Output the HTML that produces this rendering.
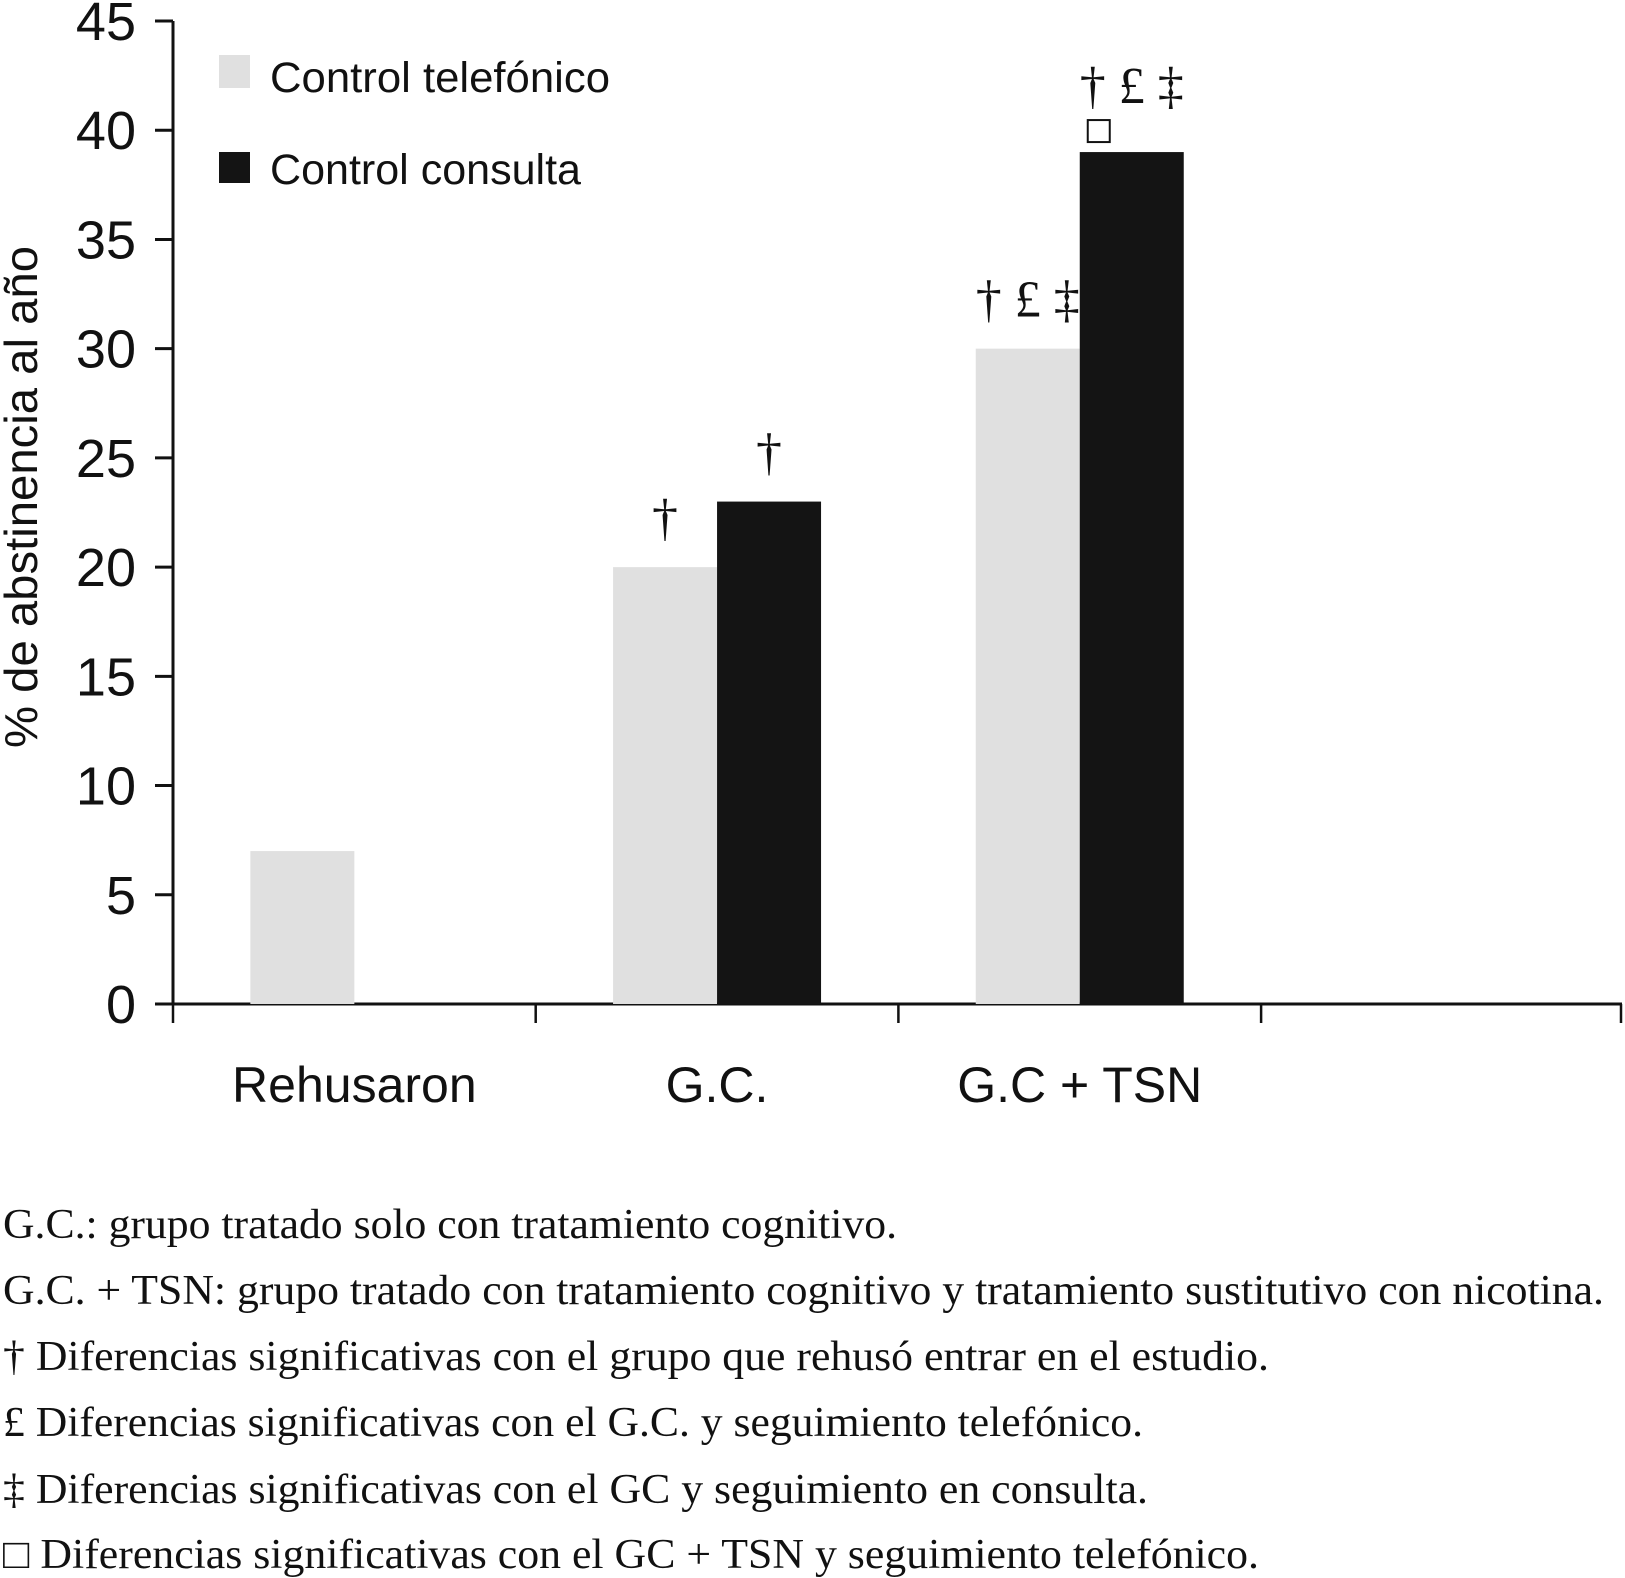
<!DOCTYPE html>
<html><head><meta charset="utf-8"><style>
html,body{margin:0;padding:0;background:#fff;}
svg{display:block;}
.sans{font-family:"Liberation Sans Narrow","Liberation Sans",sans-serif;}
.serif{font-family:"Liberation Serif",serif;}
</style></head><body>
<svg id="chart" width="1625" height="1578" viewBox="0 0 1625 1578">
<g id="axes"></g><g id="bars"></g><g id="ann"></g>
<g>
<rect x="219" y="55" width="31" height="33" fill="#e0e0e0"/>
<text x="270" y="92" class="sans" font-size="43" fill="#111" textLength="340" lengthAdjust="spacingAndGlyphs">Control telefónico</text>
<rect x="219" y="152" width="31" height="31" fill="#141414"/>
<text x="270" y="184" class="sans" font-size="43" fill="#111" textLength="311" lengthAdjust="spacingAndGlyphs">Control consulta</text>
</g>
<text transform="translate(37,497) rotate(-90)" text-anchor="middle" class="sans" font-size="46" fill="#111" textLength="502" lengthAdjust="spacingAndGlyphs">% de abstinencia al año</text>
<g class="serif" font-size="42" fill="#111">
<text x="3" y="1238" textLength="894" lengthAdjust="spacingAndGlyphs">G.C.: grupo tratado solo con tratamiento cognitivo.</text>
<text x="3" y="1304" textLength="1601" lengthAdjust="spacingAndGlyphs">G.C. + TSN: grupo tratado con tratamiento cognitivo y tratamiento sustitutivo con nicotina.</text>
<text x="3" y="1370" textLength="1266" lengthAdjust="spacingAndGlyphs">† Diferencias significativas con el grupo que rehusó entrar en el estudio.</text>
<text x="3" y="1436" textLength="1140" lengthAdjust="spacingAndGlyphs">£ Diferencias significativas con el G.C. y seguimiento telefónico.</text>
<text x="3" y="1503" textLength="1145" lengthAdjust="spacingAndGlyphs">‡ Diferencias significativas con el GC y seguimiento en consulta.</text>
<text x="3" y="1568" textLength="1256" lengthAdjust="spacingAndGlyphs">□ Diferencias significativas con el GC + TSN y seguimiento telefónico.</text>
</g>
</svg>
<script>
const categories=["Rehusaron","G.C.","G.C + TSN"];
const telefonico=[7,20,30];
const consulta=[0,23,39];
const yTicks=[0,5,10,15,20,25,30,35,40,45];
const annTel=["","†","† £ ‡"];
const annCon=["","†","† £ ‡"];
const annCon2=["","","□"];
const NS="http://www.w3.org/2000/svg";
const x0=173,xEnd=1622,y0=1004,yTop=21,yMax=45,catW=362.7,barW=104;
const y=v=>y0-(v/yMax)*(y0-yTop);
const cx=i=>x0+catW*(i+0.5);
function mk(t,a,p){const e=document.createElementNS(NS,t);for(const k in a)e.setAttribute(k,a[k]);p.appendChild(e);return e;}
const ax=document.getElementById('axes'),bg=document.getElementById('bars'),an=document.getElementById('ann');
let l=mk('line',{x1:x0,y1:y(yMax),x2:x0,y2:y0,stroke:'#111','stroke-width':3},ax);


yTicks.forEach(v=>{
 const t=mk('line',{x1:x0-18,x2:x0,y1:y(v),y2:y(v),stroke:'#111','stroke-width':3},ax);
 
 
 const tx=mk('text',{x:136,y:y(v)+19,'text-anchor':'end','font-size':54,fill:'#111',class:'sans'},ax);
 tx.textContent=v;
 
 
});
categories.forEach((c,i)=>{
 const tx=mk('text',{x:cx(i),y:1102,'text-anchor':'middle','font-size':50,fill:'#111',class:'sans'},ax);
 tx.textContent=c;
 
 
 if(telefonico[i]>0){
  const b=mk('rect',{x:cx(i)-barW,y:y(telefonico[i]),width:barW,height:y0-y(telefonico[i]),fill:'#e0e0e0'},bg);
  
  
 }
 if(consulta[i]>0){
  const b=mk('rect',{x:cx(i),y:y(consulta[i]),width:barW,height:y0-y(consulta[i]),fill:'#141414'},bg);
  
  
 }
 if(annTel[i]){
  const a=mk('text',{x:cx(i)-barW/2,y:y(telefonico[i])-32,'text-anchor':'middle','font-size':52,fill:'#111',class:'serif'},an);
  a.textContent=annTel[i];
  
  
 }
 if(annCon[i]){
  const off=annCon2[i]?49:32;
  const a=mk('text',{x:cx(i)+barW/2,y:y(consulta[i])-off,'text-anchor':'middle','font-size':52,fill:'#111',class:'serif'},an);
  a.textContent=annCon[i];
  
  
 }
 if(annCon2[i]){
  const s=mk('rect',{x:cx(i)+8,y:y(consulta[i])-32,width:22,height:22,fill:'none',stroke:'#111','stroke-width':2},an);
  
  
 }
});
l=mk('line',{x1:x0-18,y1:y0,x2:xEnd,y2:y0,stroke:'#111','stroke-width':3},ax);


for(let k=0;k<=4;k++){
 const xx=Math.min(x0+catW*k,xEnd-1);
 const t=mk('line',{x1:xx,x2:xx,y1:y0,y2:y0+19,stroke:'#111','stroke-width':2.5},ax);
 
 
}
</script>
</body></html>
